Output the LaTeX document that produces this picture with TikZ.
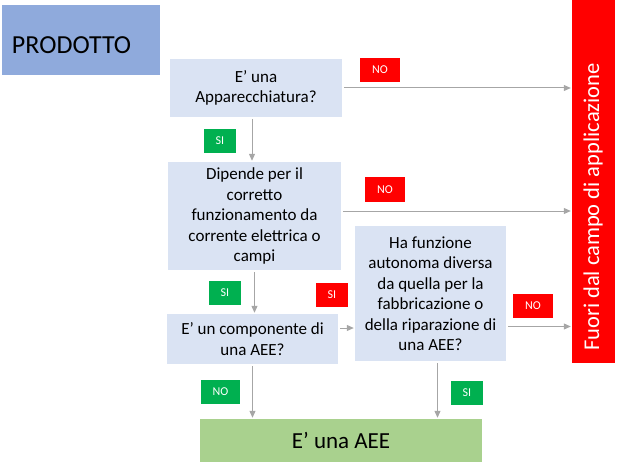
\documentclass[tikz,border=0pt]{standalone}
\usepackage{fontspec}
\setmainfont{Carlito}
\usetikzlibrary{arrows.meta}
\definecolor{pfeil}{RGB}{166,166,166}
\definecolor{prodblau}{RGB}{143,170,220}
\definecolor{frageblau}{RGB}{218,227,243}
\definecolor{neinrot}{RGB}{255,0,0}
\definecolor{jagruen}{RGB}{0,176,80}
\definecolor{aeegruen}{RGB}{169,209,142}

\begin{document}
\begin{tikzpicture}[yscale=-1,x=1pt,y=1pt,
	frage/.style={fill=frageblau,align=center,inner sep=0pt,font=\fontsize{17}{20.5}\selectfont},
	ja/.style={fill=jagruen,text=white,inner xsep=12pt,minimum height=24pt,font=\fontsize{12}{14}\selectfont},
	nein/.style={ja,fill=neinrot},
	pf/.style={pfeil,line width=1pt,shorten <=2pt,shorten >=1pt,-{Triangle[length=7pt,width=6pt]}}]
	\useasboundingbox (0,0) rectangle (617,462);
	\node[name=P,fill=prodblau,minimum width=158pt,minimum height=70pt,text width=138pt,inner xsep=10pt,align=left,text height=27pt,font=\fontsize{26}{30}\selectfont] at (81,40) {PRODOTTO};
	\node[name=F1,frage,minimum width=172pt,minimum height=58pt] at (256,88) {E’ una\\Apparecchiatura?};
	\node[name=F2,frage,minimum width=173pt,minimum height=108pt] at (254.5,216) {Dipende per il\\corretto\\funzionamento da\\corrente elettrica o\\campi};
	\node[name=F3,frage,minimum width=151pt,minimum height=135pt] at (430.5,293.5) {Ha funzione\\autonoma diversa\\da quella per la\\fabbricazione o\\della riparazione di\\una AEE?};
	\node[name=F4,frage,minimum width=171pt,minimum height=50pt] at (252.5,339) {E’ un componente di\\una AEE?};
	\node[name=AEE,fill=aeegruen,minimum width=282pt,minimum height=43pt,font=\fontsize{23}{27}\selectfont] at (341,440.5) {E’ una AEE};
	\node[name=FA,fill=neinrot,minimum width=43pt,minimum height=363pt] at (593.5,181.5) {};
	\node[name=FAt,rotate=90,text=white,font=\fontsize{22.5}{27}\selectfont] at (593,207) {Fuori dal campo di applicazione};
	% Pfeile
	\draw[pf] ([xshift=-4pt]F1.south) -- ([xshift=-4pt]F1.south |- F2.north);
	\draw[pf] (F1.east) -- (F1.east -| FA.west);
	\draw[pf] ([yshift=-5pt]F2.east) -- ([yshift=-5pt]F2.east -| FA.west);
	\draw[pf] (F2.south) -- (F2.south |- F4.north);
	\draw[pf] ([yshift=-11pt]F4.east) -- ([yshift=-11pt]F4.east -| F3.west);
	\draw[pf] ([yshift=33pt]F3.east) -- ([yshift=33pt]F3.east -| FA.west);
	\draw[pf] (F4.south) -- (F4.south |- AEE.north);
	\draw[pf] ([xshift=7pt]F3.south) -- ([xshift=7pt]F3.south |- AEE.north);
	% SI / NO
	\node[name=N1,nein] at (380,70) {NO};
	\node[name=J1,ja] at (220,141) {SI};
	\node[name=N2,nein] at (385,189.5) {NO};
	\node[name=J2,ja] at (225,293) {SI};
	\node[name=J3,nein] at (332,295) {SI};
	\node[name=N3,nein] at (533,305.5) {NO};
	\node[name=N4,ja] at (220.5,391.5) {NO};
	\node[name=J4,ja] at (467,392.5) {SI};
\end{tikzpicture}
\end{document}
